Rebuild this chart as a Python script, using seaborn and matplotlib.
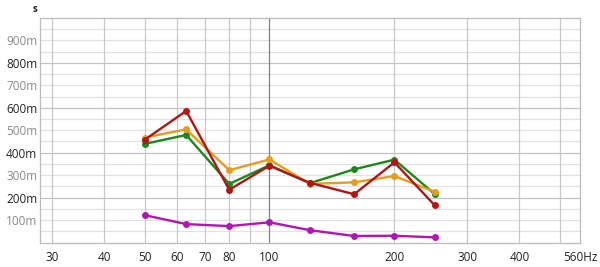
import matplotlib
matplotlib.use("Agg")
import matplotlib.pyplot as plt
import matplotlib.ticker as mticker
import seaborn as sns
import pandas as pd

freqs = [50, 63, 80, 100, 125, 160, 200, 250]
series_names = ["purple", "green", "orange", "red"]
purple = [0.122, 0.082, 0.073, 0.090, 0.055, 0.029, 0.030, 0.023]
green = [0.439, 0.479, 0.261, 0.344, 0.264, 0.326, 0.369, 0.216]
orange = [0.467, 0.504, 0.322, 0.370, 0.261, 0.268, 0.296, 0.226]
red = [0.457, 0.586, 0.235, 0.342, 0.266, 0.215, 0.357, 0.166]
colors = {"purple": "#b414b4", "green": "#1a8a1a", "orange": "#e89c1c", "red": "#b41414"}

x_tick_vals = [30, 40, 50, 60, 70, 80, 100, 200, 300, 400, 560]
x_tick_labels = ["30", "40", "50", "60", "70", "80", "100", "200", "300", "400", "560Hz"]
x_grid_vals = [30, 40, 50, 60, 70, 80, 90, 100, 200, 300, 400, 500]
y_tick_vals = [0.1, 0.2, 0.3, 0.4, 0.5, 0.6, 0.7, 0.8, 0.9]
y_tick_labels = ["100m", "200m", "300m", "400m", "500m", "600m", "700m", "800m", "900m"]

rows = []
for name, vals in zip(series_names, [purple, green, orange, red]):
    for f, v in zip(freqs, vals):
        rows.append({"freq": f, "value": v, "series": name})
df = pd.DataFrame(rows)

sns.set_theme(style="white")
plt.rcParams["font.family"] = ["Open Sans", "DejaVu Sans"]

fig = plt.figure(figsize=(6.0, 2.67), dpi=100)
ax = fig.add_axes([40 / 600, 1 - 242.5 / 267, 540 / 600, 224.5 / 267])

ax.set_xscale("log")
ax.set_xlim(28, 560)
ax.set_ylim(0, 1.0)

# grid
for i in range(1, 20):
    y = i * 0.05
    major = (i % 4 == 0)
    ax.axhline(y, color="#c4c4c4" if major else "#e2e2e2", lw=0.9, zorder=0)
for xg in x_grid_vals:
    ax.axvline(xg, color="#808080" if xg == 100 else "#c8c8c8", lw=0.9, zorder=0)

sns.lineplot(data=df, x="freq", y="value", hue="series", hue_order=series_names,
             palette=colors, marker="o", markersize=5, markeredgewidth=0,
             linewidth=1.7, legend=False, ax=ax, zorder=3)

ax.xaxis.set_major_locator(mticker.FixedLocator(x_tick_vals))
ax.xaxis.set_minor_locator(mticker.NullLocator())
ax.set_xticklabels(x_tick_labels)
ax.set_yticks(y_tick_vals)
ax.set_yticklabels(y_tick_labels)
ax.tick_params(axis="both", length=0, labelsize=8.5, colors="#222222")
ax.tick_params(axis="x", pad=6)
ax.tick_params(axis="y", pad=2)
for lbl, v in zip(ax.get_yticklabels(), y_tick_vals):
    if round(v * 10) % 2 == 1:
        lbl.set_color("#8a8a8a")
ax.set_xlabel("")
ax.set_ylabel("")
for s in ax.spines.values():
    s.set_color("#bbbbbb")
    s.set_linewidth(0.9)

fig.text(35 / 600, 1 - 9 / 267, "s", fontsize=7, fontweight="bold", ha="center", va="center", color="#222222")

fig.savefig("out.png", dpi=100)
